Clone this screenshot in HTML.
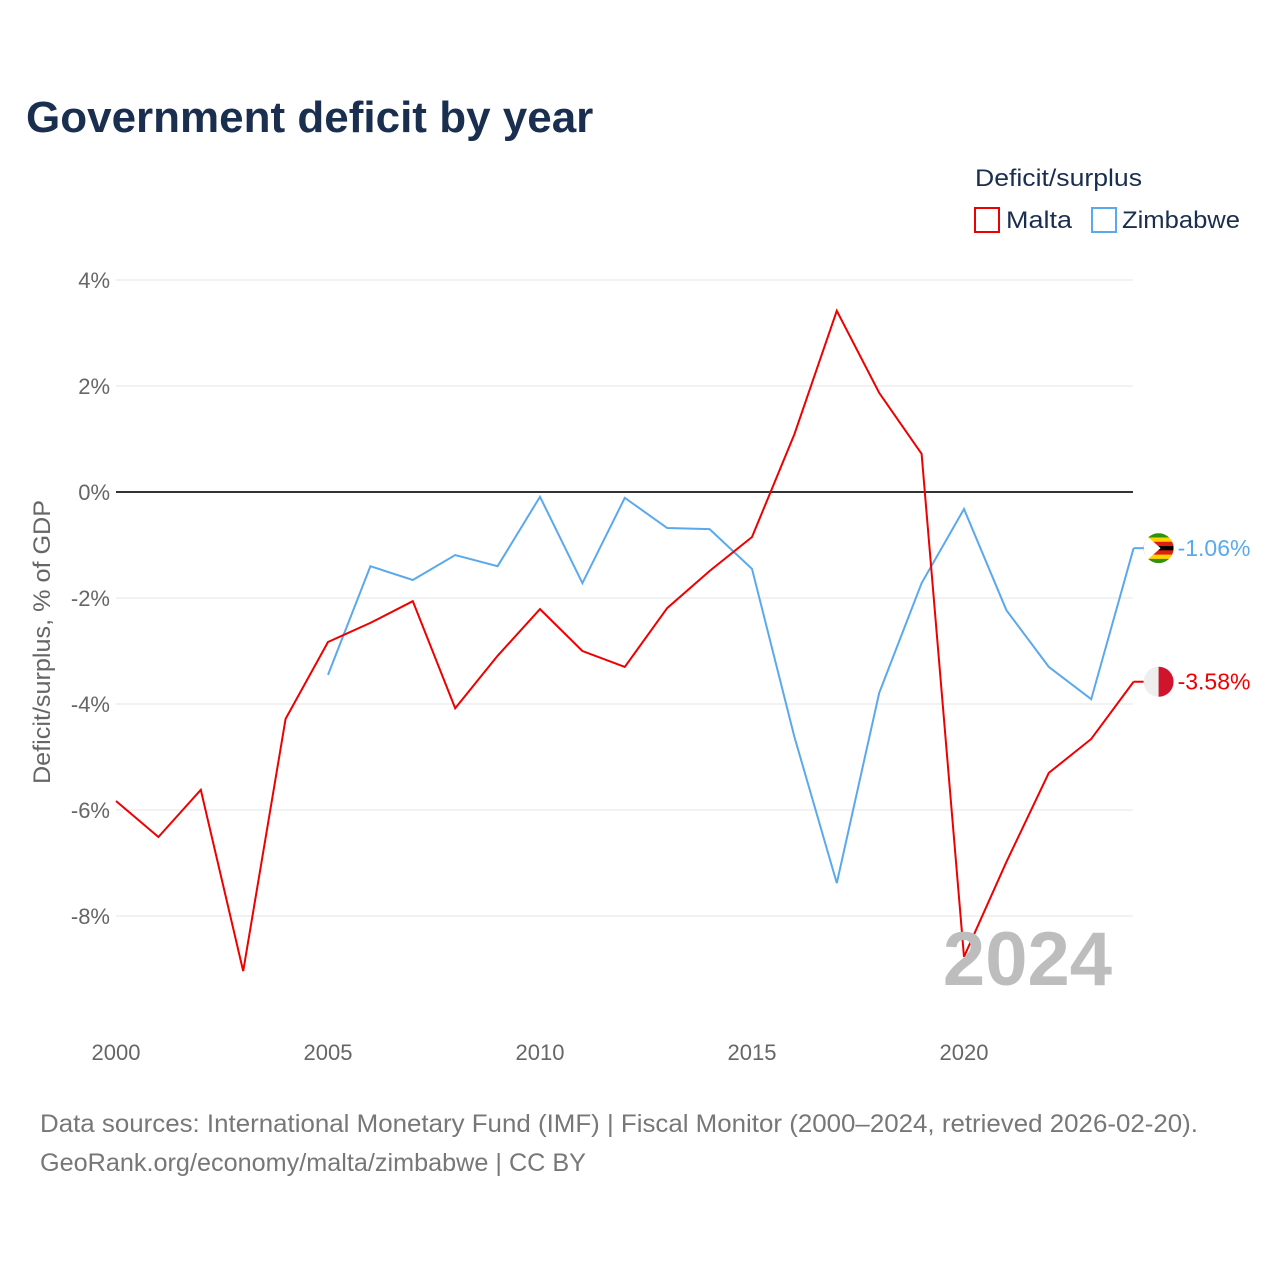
<!DOCTYPE html>
<html><head><meta charset="utf-8"><style>
body{margin:0;background:#fff;font-family:"Liberation Sans",sans-serif;}
</style></head><body>
<svg id="chart" width="1280" height="1280" xmlns="http://www.w3.org/2000/svg" font-family="Liberation Sans, sans-serif">
<rect width="1280" height="1280" fill="#fff"/>
<text x="26" y="132" font-size="44" font-weight="bold" fill="#1a2e4f">Government deficit by year</text>
<text x="975" y="186" font-size="24" fill="#1a2e4f" textLength="167" lengthAdjust="spacingAndGlyphs">Deficit/surplus</text>
<rect x="975" y="208" width="24" height="24" fill="none" stroke="#ee0000" stroke-width="2"/>
<text x="1006" y="228" font-size="24" fill="#1a2e4f" textLength="66" lengthAdjust="spacingAndGlyphs">Malta</text>
<rect x="1092" y="208" width="24" height="24" fill="none" stroke="#5aa9ec" stroke-width="2"/>
<text x="1122" y="228" font-size="24" fill="#1a2e4f" textLength="118" lengthAdjust="spacingAndGlyphs">Zimbabwe</text>
<g id="grid"></g><g id="marks"></g>
<text x="1112" y="985" font-size="76" font-weight="bold" fill="#bdbdbd" text-anchor="end">2024</text>
<text transform="translate(50,642) rotate(-90)" font-size="24" fill="#666" text-anchor="middle" textLength="284" lengthAdjust="spacingAndGlyphs">Deficit/surplus, % of GDP</text>
<text x="40" y="1132" font-size="25" fill="#777" textLength="1158" lengthAdjust="spacingAndGlyphs">Data sources: International Monetary Fund (IMF) | Fiscal Monitor (2000–2024, retrieved 2026-02-20).</text>
<text x="40" y="1171" font-size="25" fill="#777" textLength="546" lengthAdjust="spacingAndGlyphs">GeoRank.org/economy/malta/zimbabwe | CC BY</text>
</svg>
<script>
const years=[2000,2001,2002,2003,2004,2005,2006,2007,2008,2009,2010,2011,2012,2013,2014,2015,2016,2017,2018,2019,2020,2021,2022,2023,2024];
const malta=[-5.83,-6.51,-5.62,-9.04,-4.28,-2.83,-2.47,-2.06,-4.08,-3.09,-2.21,-3.0,-3.30,-2.19,-1.49,-0.85,1.09,3.42,1.87,0.72,-8.77,-6.98,-5.30,-4.66,-3.58];
const zimbabwe=[null,null,null,null,null,-3.45,-1.40,-1.66,-1.19,-1.40,-0.09,-1.72,-0.11,-0.68,-0.70,-1.45,-4.62,-7.38,-3.79,-1.72,-0.32,-2.23,-3.30,-3.91,-1.06];
const yTicks=[4,2,0,-2,-4,-6,-8];
const xTicks=[2000,2005,2010,2015,2020];
const NS="http://www.w3.org/2000/svg";
const X=y=>116+(y-2000)*42.4;
const Y=v=>492-v*53;
const grid=document.getElementById('grid'),marks=document.getElementById('marks');
function mk(tag,at,parent){const e=document.createElementNS(NS,tag);for(const k in at)e.setAttribute(k,at[k]);parent.appendChild(e);return e;}
yTicks.forEach(t=>{
 const l=mk('line',{x1:116,x2:1133,y1:Y(t),y2:Y(t),stroke:t===0?'#333':'#e6e6e6','stroke-width':t===0?2:1},grid);
 
 
 const tx=mk('text',{x:110,y:Y(t)+8,'font-size':22,fill:'#666','text-anchor':'end'},grid);
 tx.textContent=t+'%';
 
 
});
xTicks.forEach(t=>{
 const tx=mk('text',{x:X(t),y:1060,'font-size':22,fill:'#666','text-anchor':'middle'},grid);
 tx.textContent=t;
 
 
});
function line(vals,color,name){
 let d='';vals.forEach((v,i)=>{if(v===null)return;d+=(d?'L':'M')+X(years[i])+','+Y(v);});
 const p=mk('path',{d:d,fill:'none',stroke:color,'stroke-width':2},marks);
 
 
}
line(zimbabwe,'#5aa9ec','zimbabwe-line');
line(malta,'#ee0000','malta-line');
function endLabel(vals,color,name,flag){
 const v=vals[vals.length-1],x=X(2024),y=Y(v);
 mk('line',{x1:x,x2:x+10,y1:y,y2:y,stroke:color,'stroke-width':2},marks);
 const g=mk('g',{},marks);
 
 
 if(flag==='mt'){
  mk('circle',{cx:x+25,cy:y,r:15,fill:'#eee'},g);
  mk('path',{d:`M${x+25},${y-15} A15,15 0 0 1 ${x+25},${y+15} Z`,fill:'#cf142b'},g);
 }else{
  const cols=['#319208','#ffd200','#de2010','#000','#de2010','#ffd200','#319208'];
  mk('clipPath',{id:'zc'},g);
  const cp=g.lastChild;mk('circle',{cx:x+25,cy:y,r:15},cp);
  cols.forEach((c,i)=>mk('rect',{x:x+10,y:y-15+i*30/7,width:30,height:30/7+0.5,fill:c,'clip-path':'url(#zc)'},g));
  mk('path',{d:`M${x+10},${y-15}L${x+27},${y}L${x+10},${y+15}Z`,fill:'#fff','clip-path':'url(#zc)'},g);
 }
 const t=mk('text',{x:x+44,y:y+8,'font-size':23,fill:color},marks);
 t.textContent=v.toFixed(2)+'%';
 
 
}
endLabel(zimbabwe,'#5aa9ec','zimbabwe','zw');
endLabel(malta,'#ee0000','malta','mt');
</script>
</body></html>
